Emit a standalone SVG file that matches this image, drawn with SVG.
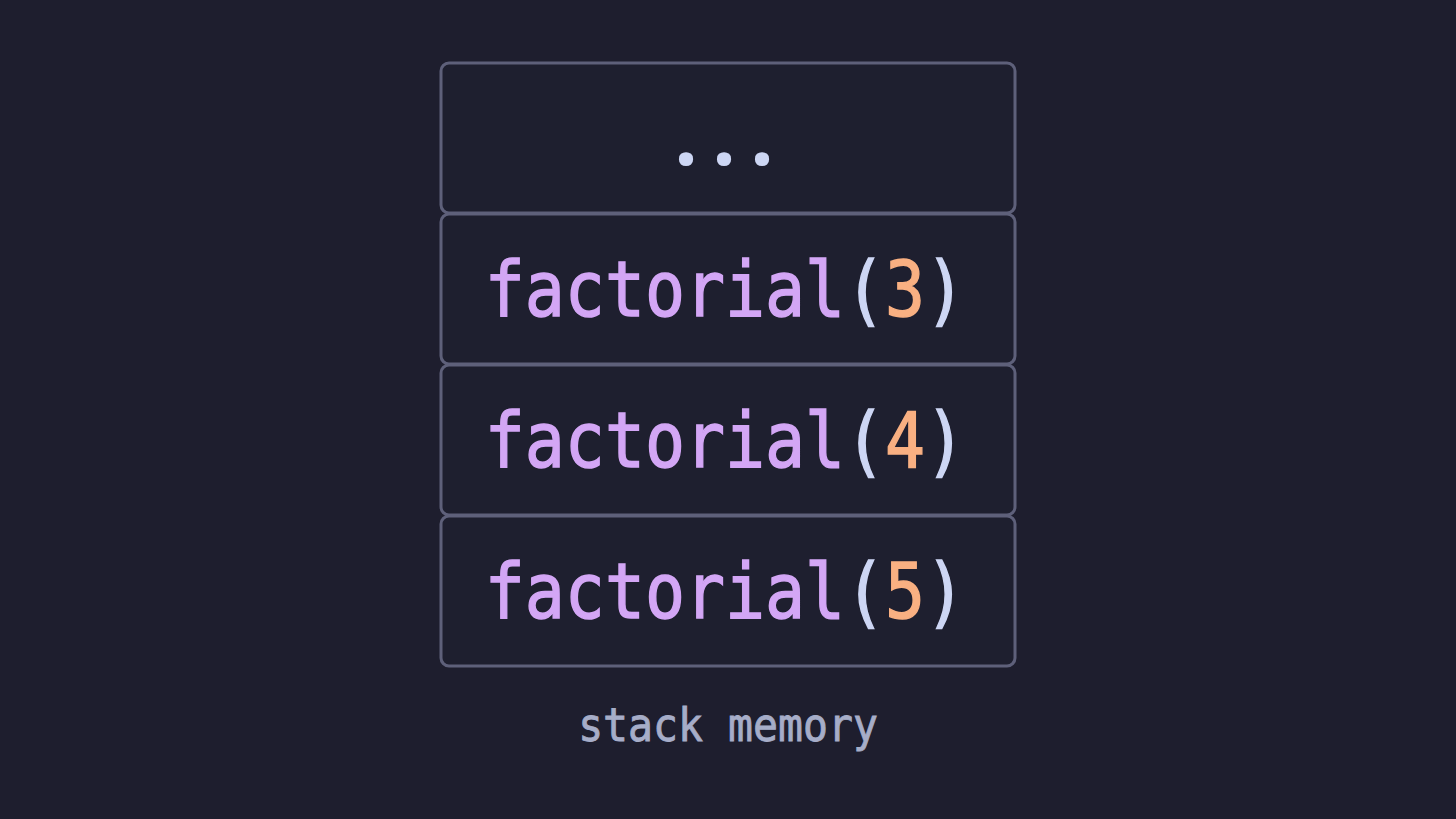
<svg xmlns="http://www.w3.org/2000/svg" width="1456" height="819" viewBox="0 0 1456 819">
<style>
.frame{fill:#1e1f2f;stroke:#5e607a;stroke-width:3}
.code{font-family:"DejaVu Sans Mono","Liberation Mono",monospace;font-size:66.5px;text-anchor:middle;stroke-width:1.3;paint-order:stroke}
.fn{fill:#d3a6f5;stroke:#d3a6f5}
.par{fill:#cdd6f4;stroke:#cdd6f4}
.num{fill:#f9b082;stroke:#f9b082}
.dots{font-family:"Noto Sans","DejaVu Sans",sans-serif;font-weight:bold;font-size:82px;fill:#cdd6f4;text-anchor:middle}
.lbl{font-family:"DejaVu Sans Mono","Liberation Mono",monospace;font-size:41.5px;fill:#a6adc8;stroke:#a6adc8;stroke-width:0.8;text-anchor:middle}
</style>
<rect width="1456" height="819" fill="#1e1e2e"/>
<g id="frame-dots">
<rect class="frame" x="441" y="63" width="574" height="150" rx="8"/>
<text class="dots" x="686 724 762" y="165">...</text>
</g>
<g id="frame-3">
<rect class="frame" x="441" y="214" width="574" height="150" rx="8"/>
<text class="code" transform="translate(0,316) scale(1,1.14)" x="725" y="0"><tspan class="fn">factorial</tspan><tspan class="par">(</tspan><tspan class="num">3</tspan><tspan class="par">)</tspan></text>
</g>
<g id="frame-4">
<rect class="frame" x="441" y="365" width="574" height="150" rx="8"/>
<text class="code" transform="translate(0,467) scale(1,1.14)" x="725" y="0"><tspan class="fn">factorial</tspan><tspan class="par">(</tspan><tspan class="num">4</tspan><tspan class="par">)</tspan></text>
</g>
<g id="frame-5">
<rect class="frame" x="441" y="516" width="574" height="150" rx="8"/>
<text class="code" transform="translate(0,618) scale(1,1.14)" x="725" y="0"><tspan class="fn">factorial</tspan><tspan class="par">(</tspan><tspan class="num">5</tspan><tspan class="par">)</tspan></text>
</g>
<g id="label">
<text class="lbl" transform="translate(0,741) scale(1,1.12)" x="728" y="0">stack memory</text>
</g>
<g id="connectors"/>
</svg>
